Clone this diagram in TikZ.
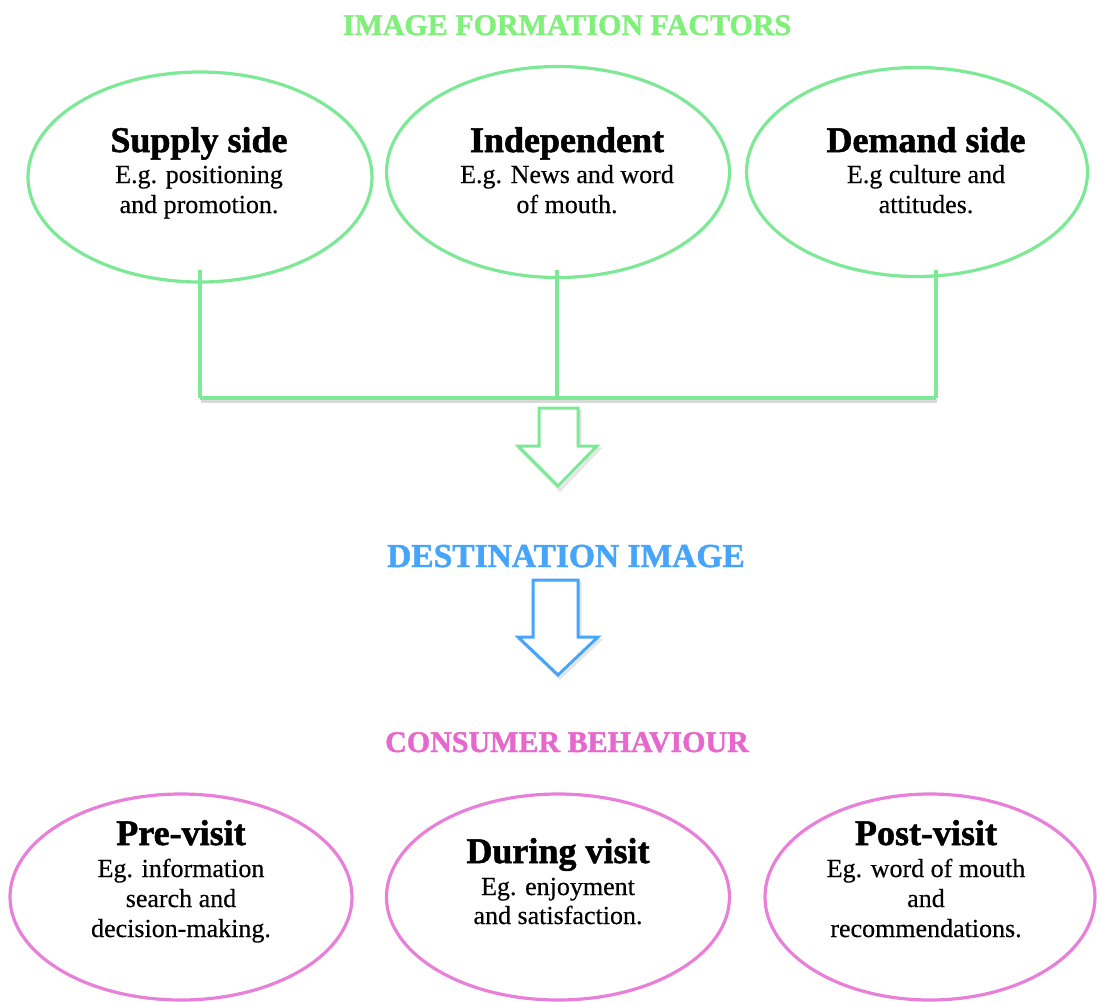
\documentclass[tikz,border=0pt]{standalone}
\usepackage{fontspec}
\setmainfont{Liberation Serif}[UprightFeatures={FakeBold=0.4},BoldFeatures={FakeBold=1.4}]
\usetikzlibrary{shapes.geometric}
\definecolor{lgreen}{RGB}{125,232,150}
\definecolor{tgreen}{RGB}{128,240,122}
\definecolor{lblue}{RGB}{70,165,250}
\definecolor{lpink}{RGB}{232,128,218}
\definecolor{tpink}{RGB}{230,104,204}
\tikzset{
  oval/.style={ellipse, draw, line width=3.2pt, inner sep=0pt},
  headtxt/.style={anchor=base, inner sep=0pt, font=\fontsize{36}{40}\selectfont\bfseries},
  bodytxt/.style={anchor=base, inner sep=0pt, font=\fontsize{26}{30}\selectfont},
  ttltxt/.style={anchor=base, inner sep=0pt, font=\fontsize{30}{34}\selectfont\bfseries},
  barline/.style={draw=lgreen, line width=4pt},
  hollow/.style={line width=3pt, fill=white, line join=miter},
  shadowline/.style={draw=black, opacity=0.15, line width=4pt},
}
\begin{document}
\begin{tikzpicture}[x=1pt,y=-1pt]
\useasboundingbox (0,0) rectangle (1097,1001);
\fill[white] (0,0) rectangle (1097,1001);

% title
\node[ttltxt, text=tgreen] (t1) at (567,35) {IMAGE FORMATION FACTORS};

% top ellipses
\node[oval, draw=lgreen, minimum width=344pt, minimum height=210pt] (e1) at (200,177) {};
\node[oval, draw=lgreen, minimum width=343pt, minimum height=211pt] (e2) at (558,172) {};
\node[oval, draw=lgreen, minimum width=341pt, minimum height=209pt] (e3) at (917,172) {};

\node[headtxt] (e1h) at (199,152) {Supply side};
\node[bodytxt] (e1a) at (199,183) {E.g. positioning};
\node[bodytxt] (e1b) at (199,213) {and promotion.};

\node[headtxt] (e2h) at (567,152) {Independent};
\node[bodytxt] (e2a) at (567,183) {E.g. News and word};
\node[bodytxt] (e2b) at (567,213) {of mouth.};

\node[headtxt] (e3h) at (926,152) {Demand side};
\node[bodytxt] (e3a) at (926,183) {E.g culture and};
\node[bodytxt] (e3b) at (926,213) {attitudes.};

% connector bar
\coordinate (c1t) at (200,270);
\coordinate (c2t) at (557,270);
\coordinate (c3t) at (936,270);
\coordinate (c1b) at (200,398);
\coordinate (c2b) at (557,398);
\coordinate (c3b) at (936,398);
\draw[shadowline] ([shift={(1,2.5)}]c1b) -- ([shift={(1,2.5)}]c3b);
\draw[barline] (c1t) -- (c1b);
\draw[barline] (c2t) -- (c2b);
\draw[barline] (c3t) -- (c3b);
\draw[barline, line width=4.5pt, line join=miter] (c1b) -- (c3b);

% green hollow arrow
\draw[hollow, draw=black, opacity=0.1] (541,411) -- (580,411) -- (580,449) -- (599,449) -- (560,490) -- (520,449) -- (541,449) -- cycle;
\draw[hollow, draw=lgreen] (539,408) -- (578,408) -- (578,446) -- (597,446) -- (558,486) -- (518,446) -- (539,446) -- cycle;

% destination
\node[ttltxt, text=lblue, font=\fontsize{33.5}{38}\selectfont\bfseries] (t2) at (566,567) {DESTINATION IMAGE};

% blue hollow arrow
\draw[hollow, draw=black, opacity=0.1] (535,583) -- (580,583) -- (580,640) -- (600,640) -- (560,678) -- (520,640) -- (535,640) -- cycle;
\draw[hollow, draw=lblue] (533,580) -- (578,580) -- (578,637) -- (598,637) -- (558,675) -- (518,637) -- (533,637) -- cycle;

% consumer behaviour
\node[ttltxt, text=tpink] (t3) at (567,752) {CONSUMER BEHAVIOUR};

% bottom ellipses
\node[oval, draw=lpink, minimum width=342pt, minimum height=206pt] (b1) at (181,897) {};
\node[oval, draw=lpink, minimum width=343pt, minimum height=206pt] (b2) at (558,897) {};
\node[oval, draw=lpink, minimum width=330pt, minimum height=206pt] (b3) at (930,897) {};

\node[headtxt] (b1h) at (181,845) {Pre-visit};
\node[bodytxt] (b1a) at (181,877) {Eg. information};
\node[bodytxt] (b1b) at (181,907) {search and};
\node[bodytxt] (b1c) at (181,937) {decision-making.};

\node[headtxt] (b2h) at (558,863) {During visit};
\node[bodytxt] (b2a) at (558,895) {Eg. enjoyment};
\node[bodytxt] (b2b) at (558,924) {and satisfaction.};

\node[headtxt] (b3h) at (926,845) {Post-visit};
\node[bodytxt] (b3a) at (926,877) {Eg. word of mouth};
\node[bodytxt] (b3b) at (926,907) {and};
\node[bodytxt] (b3c) at (926,937) {recommendations.};
\end{tikzpicture}
\end{document}
